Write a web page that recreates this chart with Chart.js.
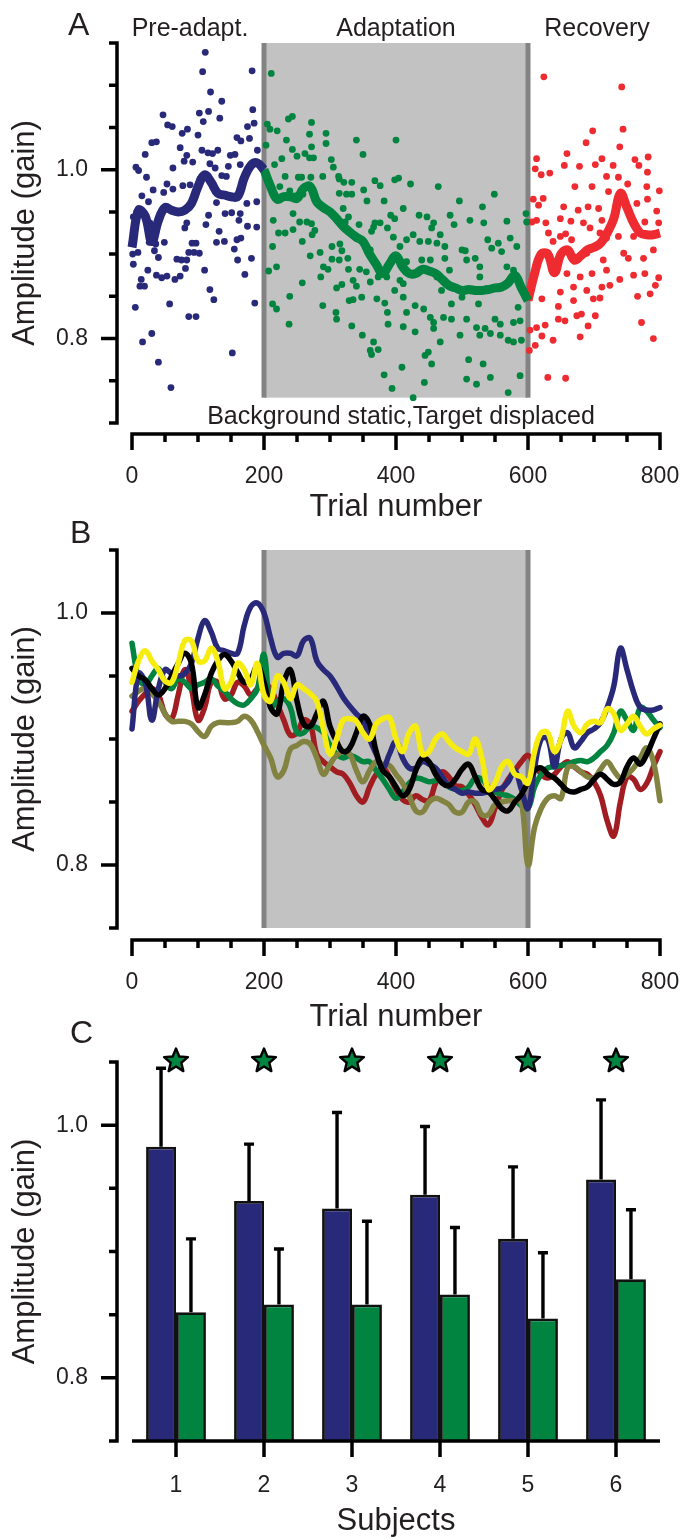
<!DOCTYPE html>
<html>
<head>
<meta charset="utf-8">
<script src="https://cdn.jsdelivr.net/npm/chart.js@4.4.1/dist/chart.umd.min.js"></script>
<style>
  body { margin: 0; background: #fff; }
  canvas { position: absolute; left: 0; }
</style>
</head>
<body>
<canvas id="chart-a" width="683" height="520" style="top:0"></canvas>
<canvas id="chart-b" width="683" height="525" style="top:505px"></canvas>
<canvas id="chart-c" width="683" height="529" style="top:1010px"></canvas>
<script>
// ---- data ----
const gainTickLabels = [0.8, 1.0];
const trialTickLabels = [0, 200, 400, 600, 800];
const phaseNames = ['Pre-adapt.', 'Adaptation', 'Recovery'];
const subjects = ['1', '2', '3', '4', '5', '6'];

// running averages, one value every 10 trials
const avgTrials = [0,10,20,30,40,50,60,70,80,90,100,110,120,130,140,150,160,170,180,190,200,210,220,230,240,250,260,270,280,290,300,310,320,330,340,350,360,370,380,390,400,410,420,430,440,450,460,470,480,490,500,510,520,530,540,550,560,570,580,590,600,610,620,630,640,650,660,670,680,690,700,710,720,730,740,750,760,770,780,790,800];
const subj1 = [0.908,0.952,0.945,0.915,0.94,0.955,0.952,0.95,0.952,0.96,0.98,0.994,0.985,0.972,0.97,0.968,0.968,0.99,1.005,1.008,1.0,0.98,0.965,0.968,0.968,0.966,0.978,0.98,0.962,0.955,0.95,0.942,0.933,0.926,0.92,0.915,0.9,0.888,0.877,0.888,0.898,0.885,0.877,0.877,0.882,0.88,0.877,0.87,0.863,0.86,0.857,0.858,0.857,0.857,0.858,0.86,0.861,0.866,0.875,0.86,0.845,0.877,0.9,0.9,0.878,0.9,0.905,0.893,0.898,0.905,0.908,0.913,0.925,0.942,0.972,0.955,0.937,0.925,0.923,0.923,0.925];
const subj2 = [0.976,0.948,0.943,0.95,0.956,0.945,0.94,0.948,0.945,0.94,0.943,0.945,0.948,0.942,0.938,0.932,0.928,0.927,0.932,0.94,0.967,0.925,0.93,0.932,0.925,0.905,0.905,0.91,0.909,0.905,0.895,0.888,0.885,0.887,0.885,0.882,0.882,0.875,0.868,0.86,0.853,0.858,0.865,0.869,0.868,0.866,0.867,0.868,0.862,0.86,0.859,0.862,0.869,0.868,0.862,0.858,0.856,0.855,0.852,0.847,0.845,0.862,0.872,0.877,0.878,0.879,0.88,0.882,0.883,0.882,0.885,0.89,0.895,0.905,0.922,0.915,0.907,0.925,0.922,0.915,0.909];
const subj3 = [0.956,0.95,0.947,0.94,0.935,0.94,0.95,0.96,0.968,0.96,0.925,0.935,0.952,0.962,0.967,0.962,0.953,0.945,0.948,0.958,0.945,0.925,0.92,0.945,0.955,0.93,0.912,0.91,0.92,0.93,0.91,0.898,0.89,0.893,0.905,0.918,0.912,0.89,0.875,0.87,0.862,0.855,0.86,0.875,0.885,0.882,0.872,0.865,0.863,0.868,0.876,0.88,0.87,0.86,0.858,0.852,0.845,0.843,0.85,0.856,0.866,0.875,0.877,0.872,0.869,0.864,0.859,0.858,0.86,0.862,0.868,0.872,0.868,0.864,0.866,0.878,0.885,0.88,0.888,0.9,0.912];
const subj4 = [0.945,0.962,0.97,0.962,0.955,0.946,0.945,0.96,0.978,0.978,0.962,0.962,0.972,0.962,0.94,0.945,0.96,0.955,0.943,0.96,0.935,0.93,0.95,0.945,0.932,0.943,0.94,0.936,0.93,0.908,0.888,0.9,0.915,0.916,0.914,0.905,0.9,0.912,0.916,0.917,0.9,0.89,0.905,0.91,0.888,0.89,0.9,0.904,0.898,0.893,0.89,0.888,0.9,0.885,0.86,0.865,0.878,0.882,0.872,0.87,0.865,0.89,0.905,0.905,0.89,0.9,0.922,0.91,0.905,0.912,0.914,0.913,0.924,0.92,0.907,0.912,0.918,0.91,0.904,0.908,0.911];
const subj5 = [0.922,0.93,0.936,0.94,0.935,0.92,0.916,0.935,0.955,0.94,0.915,0.925,0.945,0.945,0.932,0.935,0.945,0.942,0.935,0.94,0.943,0.94,0.928,0.915,0.903,0.905,0.915,0.912,0.888,0.882,0.878,0.874,0.872,0.865,0.855,0.85,0.862,0.872,0.877,0.87,0.86,0.852,0.85,0.855,0.852,0.851,0.865,0.874,0.87,0.863,0.862,0.856,0.848,0.838,0.832,0.845,0.859,0.868,0.875,0.882,0.887,0.88,0.872,0.869,0.872,0.878,0.882,0.878,0.874,0.872,0.866,0.855,0.835,0.823,0.85,0.87,0.868,0.86,0.865,0.878,0.89];
const subj6 = [0.934,0.938,0.94,0.936,0.93,0.92,0.914,0.914,0.914,0.912,0.906,0.902,0.91,0.913,0.913,0.913,0.914,0.918,0.915,0.906,0.895,0.885,0.87,0.875,0.892,0.895,0.898,0.896,0.885,0.872,0.88,0.887,0.89,0.888,0.875,0.866,0.875,0.882,0.88,0.879,0.872,0.865,0.855,0.843,0.842,0.85,0.853,0.851,0.848,0.842,0.842,0.85,0.85,0.84,0.84,0.848,0.85,0.851,0.851,0.85,0.8,0.83,0.845,0.853,0.855,0.853,0.877,0.878,0.874,0.87,0.869,0.876,0.882,0.875,0.869,0.872,0.877,0.885,0.893,0.882,0.851];

// single trials of subject 1 (panel A)
const preTrial = [111,107,182,119,136,47,102,116,133,108,183,54,61,84,76,100,175,185,159,165,178,30,37,73,106,20,83,115,122,130,149,156,190,6,10,62,79,92,118,126,146,164,22,53,77,88,103,136,143,32,48,62,15,25,96,128,154,174,189,2,7,116,141,151,162,164,27,83,112,175,189,80,132,26,36,49,128,140,159,165,91,97,155,34,86,94,102,1,9,40,68,75,83,160,181,2,24,81,73,37,45,53,65,110,171,14,12,19,118,124,57,186,5,86,97,30,16,152,40,59];
const preGain = [1.139,1.116,1.117,1.092,1.081,1.065,1.067,1.069,1.061,1.057,1.071,1.053,1.051,1.048,1.043,1.041,1.051,1.055,1.038,1.034,1.037,1.032,1.033,1.026,1.023,1.018,1.017,1.02,1.019,1.023,1.017,1.018,1.023,1.003,0.999,1.002,1.01,1.009,1.007,1.002,1.004,1.006,0.991,0.983,0.981,0.982,0.989,0.993,0.992,0.976,0.973,0.977,0.969,0.962,0.969,0.961,0.968,0.96,0.962,0.944,0.95,0.946,0.948,0.949,0.94,0.948,0.937,0.937,0.935,0.933,0.932,0.931,0.927,0.914,0.912,0.914,0.914,0.915,0.917,0.919,0.913,0.913,0.906,0.904,0.902,0.902,0.901,0.9,0.902,0.896,0.894,0.893,0.893,0.893,0.895,0.888,0.881,0.883,0.874,0.875,0.872,0.874,0.87,0.881,0.876,0.87,0.862,0.862,0.858,0.846,0.841,0.842,0.837,0.826,0.826,0.806,0.796,0.783,0.772,0.742];
const adaptTrial = [211,243,237,272,205,220,209,269,294,340,400,234,203,243,272,250,262,294,269,275,350,216,227,302,305,232,252,257,271,289,313,314,321,333,368,376,398,404,239,247,259,224,314,325,333,351,356,382,411,320,244,214,222,232,244,254,265,272,277,273,323,328,344,376,366,392,398,368,387,396,363,258,213,270,285,303,315,318,303,314,327,361,406,290,286,297,219,207,258,328,335,345,355,361,373,386,406,310,318,340,348,335,329,371,383,398,411,387,388,239,213,219,289,309,310,333,238,349,366,361,373,363,382,394,422,464,549,496,531,435,447,482,488,512,533,568,597,598,457,454,467,426,416,436,449,462,474,500,505,539,555,573,583,545,560,520,527,568,578,507,474,416,439,452,481,462,411,469,527,537,500,484,429,442,525,585,416,452,457,472,484,507,522,535,550,558,578,588,411,429,457,497,527,543,558,570,578,590,467,449,444,454,409,510,532,588,543,443,507,522,426,570];
const adaptGain = [1.114,1.063,1.06,1.056,1.054,1.046,1.048,1.042,1.043,1.035,1.035,1.035,1.029,1.024,1.027,1.016,1.019,1.031,1.014,1.014,1.018,1.006,1.013,1.012,1.003,0.992,0.991,0.991,0.991,0.992,0.992,0.989,0.985,0.985,0.987,0.981,0.988,0.99,0.975,0.969,0.971,0.98,0.972,0.971,0.971,0.976,0.963,0.963,0.954,0.954,0.948,0.94,0.925,0.925,0.929,0.938,0.938,0.936,0.928,0.923,0.938,0.944,0.935,0.937,0.932,0.946,0.942,0.937,0.931,0.92,0.927,0.915,0.909,0.898,0.902,0.909,0.912,0.904,0.894,0.893,0.895,0.905,0.909,0.885,0.873,0.882,0.885,0.88,0.866,0.882,0.869,0.882,0.879,0.867,0.873,0.873,0.869,0.86,0.864,0.862,0.849,0.846,0.845,0.847,0.842,0.857,0.849,0.831,0.817,0.85,0.841,0.835,0.839,0.831,0.823,0.815,0.817,0.804,0.796,0.786,0.787,0.781,0.757,0.741,0.983,0.98,0.971,0.963,0.956,0.946,0.944,0.946,0.935,0.94,0.937,0.939,0.948,0.938,0.937,0.931,0.923,0.923,0.917,0.915,0.915,0.913,0.909,0.905,0.904,0.917,0.913,0.919,0.909,0.907,0.903,0.895,0.885,0.885,0.881,0.893,0.895,0.891,0.893,0.893,0.881,0.873,0.865,0.857,0.873,0.859,0.849,0.841,0.839,0.835,0.841,0.837,0.831,0.825,0.819,0.825,0.823,0.823,0.813,0.812,0.823,0.817,0.819,0.821,0.814,0.808,0.812,0.804,0.804,0.806,0.804,0.798,0.796,0.798,0.796,0.784,0.78,0.77,0.766,0.775,0.77,0.756,0.754,0.748,0.752,0.746,0.73,0.736];
const recovTrial = [624,742,698,744,688,739,613,659,712,782,655,678,702,729,762,611,620,633,768,781,719,737,671,697,751,780,799,722,608,623,654,676,691,707,765,781,795,616,606,613,627,649,665,684,694,712,777,798,631,638,649,657,666,709,719,737,760,790,745,633,669,689,714,752,775,659,679,697,719,739,760,777,798,649,669,689,712,724,793,621,669,699,709,766,785,646,681,674,702,646,656,691,772,626,603,613,679,621,638,611,602,790,630,657];
const recovGain = [1.11,1.098,1.046,1.048,1.032,1.027,1.013,1.019,1.013,1.015,1.005,1.004,1.006,1.005,1.012,1.001,0.994,0.996,1.005,0.997,0.992,0.991,0.98,0.98,0.983,0.98,0.975,0.974,0.965,0.966,0.956,0.952,0.956,0.954,0.96,0.965,0.951,0.958,0.938,0.94,0.937,0.942,0.939,0.937,0.931,0.94,0.938,0.937,0.925,0.915,0.921,0.924,0.917,0.925,0.919,0.921,0.921,0.905,0.901,0.895,0.897,0.901,0.893,0.895,0.895,0.877,0.873,0.877,0.881,0.87,0.875,0.877,0.872,0.855,0.861,0.857,0.861,0.863,0.863,0.847,0.845,0.847,0.848,0.85,0.853,0.838,0.829,0.827,0.827,0.823,0.821,0.815,0.819,0.816,0.81,0.813,0.802,0.803,0.798,0.792,0.786,0.8,0.754,0.753];

// panel C: mean gain per subject with upper SD
const preAdaptMean = [0.983, 0.940, 0.934, 0.945, 0.910, 0.957];
const preAdaptSD = [0.062, 0.045, 0.076, 0.054, 0.057, 0.063];
const adaptMean = [0.852, 0.858, 0.858, 0.866, 0.847, 0.878];
const adaptSD = [0.058, 0.044, 0.066, 0.053, 0.052, 0.055];
const significant = [true, true, true, true, true, true];

// ---- styling ----
const family = '"Liberation Sans", Arial, Helvetica, sans-serif';
const ink = '#231f20';
const navy = '#29297a', green = '#00843f', red = '#ee2b30';
const maroon = '#a11d22', olive = '#838341', yellow = '#f7ec0f';
Chart.defaults.font.family = family;

const pts = (xs, ys) => xs.map((t, i) => ({ x: t, y: ys[i] }));
const avgPts = (ys, from, to) => avgTrials.slice(from, to + 1).map((t, i) => ({ x: t, y: ys[from + i] }));

// axes are drawn by hand: offset spines, long ticks on labelled values
const paperAxes = {
  id: 'paperAxes',
  beforeDatasetsDraw(chart, args, o) {
    if (!o.shade) return;
    const { ctx, chartArea: a, scales: { x, y } } = chart;
    const x0 = x.getPixelForValue(o.shade[0]);
    const x1 = x.getPixelForValue(o.shade[1]);
    const yb = o.shadeFloor != null ? y.getPixelForValue(o.shadeFloor) : a.bottom;
    ctx.save();
    ctx.fillStyle = '#c2c2c2';
    ctx.fillRect(x0, a.top, x1 - x0, yb - a.top);
    ctx.fillStyle = '#838383';
    ctx.fillRect(x0 - 2.5, a.top, 5, yb - a.top);
    ctx.fillRect(x1 - 2.5, a.top, 5, yb - a.top);
    ctx.restore();
  },
  afterDraw(chart, args, o) {
    const { ctx, chartArea: a, scales: { x, y } } = chart;
    ctx.save();
    ctx.strokeStyle = '#000';
    ctx.lineWidth = 3.5;
    const sx = a.left - o.yGap;
    ctx.beginPath();
    ctx.moveTo(sx, a.top - 1.75);
    ctx.lineTo(sx, a.bottom + 1.75);
    y.ticks.forEach(t => {
      const py = y.getPixelForValue(t.value);
      ctx.moveTo(sx + 1.75, py);
      ctx.lineTo(sx - (t.label ? 16 : 8), py);
    });
    ctx.stroke();

    const sy = a.bottom + o.xGap;
    ctx.beginPath();
    if (x.type === 'category') {
      ctx.moveTo(a.left, sy);
      ctx.lineTo(a.right, sy);
      x.ticks.forEach((t, i) => {
        const px = x.getPixelForTick(i);
        ctx.moveTo(px, sy);
        ctx.lineTo(px, sy + 16);
      });
    } else {
      ctx.moveTo(x.getPixelForValue(x.min) - 1.75, sy);
      ctx.lineTo(x.getPixelForValue(x.max) + 1.75, sy);
      x.ticks.forEach(t => {
        const px = x.getPixelForValue(t.value);
        ctx.moveTo(px, sy - 1.75);
        ctx.lineTo(px, sy + (t.label ? 16 : 8));
      });
    }
    ctx.stroke();

    ctx.fillStyle = ink;
    ctx.textBaseline = 'alphabetic';
    (o.notes || []).forEach(n => {
      ctx.font = n.size + 'px ' + family;
      ctx.textAlign = n.align || 'center';
      ctx.fillText(n.text, n.x, n.y);
    });
    ctx.restore();
  }
};

const errorBars = {
  id: 'errorBars',
  afterDatasetsDraw(chart) {
    const { ctx, scales: { y } } = chart;
    ctx.save();
    ctx.strokeStyle = '#000';
    ctx.lineWidth = 3.4;
    chart.data.datasets.forEach((ds, di) => {
      if (!ds.sd) return;
      chart.getDatasetMeta(di).data.forEach((bar, i) => {
        const top = y.getPixelForValue(ds.data[i] + ds.sd[i]);
        ctx.beginPath();
        ctx.moveTo(bar.x, bar.y);
        ctx.lineTo(bar.x, top);
        ctx.moveTo(bar.x - 5, top);
        ctx.lineTo(bar.x + 5, top);
        ctx.stroke();
      });
    });
    ctx.restore();
  },
  afterDraw(chart) {
    const { ctx, chartArea: a, scales: { x } } = chart;
    ctx.save();
    ctx.fillStyle = green;
    ctx.strokeStyle = '#000';
    ctx.lineWidth = 2.4;
    ctx.lineJoin = 'round';
    significant.forEach((s, i) => {
      if (!s) return;
      const cx = x.getPixelForValue(i), cy = a.top - 1;
      ctx.beginPath();
      for (let k = 0; k < 10; k++) {
        const r = k % 2 ? 5.6 : 12.5;
        const ang = -Math.PI / 2 + k * Math.PI / 5;
        ctx.lineTo(cx + r * Math.cos(ang), cy + r * Math.sin(ang));
      }
      ctx.closePath();
      ctx.fill();
      ctx.stroke();
    });
    ctx.restore();
  }
};

function gainAxis(min, max) {
  return {
    min: min, max: max,
    afterFit: s => { s.width = 132; s.paddingTop = 0; s.paddingBottom = 0; },
    grid: { display: false, drawTicks: false },
    border: { display: false },
    ticks: {
      stepSize: 0.05, autoSkip: false, padding: 44, color: ink, font: { size: 23 },
      callback: v => gainTickLabels.includes(Math.round(v * 100) / 100) ? v.toFixed(1) : ''
    },
    title: { display: true, text: 'Amplitude (gain)', color: ink, font: { size: 31 }, padding: { top: 7 } }
  };
}

function trialAxis(height, pad) {
  return {
    type: 'linear', min: 0, max: 800,
    afterFit: s => { s.height = height; s.paddingLeft = 0; s.paddingRight = 20; },
    grid: { display: false, drawTicks: false },
    border: { display: false },
    ticks: {
      stepSize: 50, autoSkip: false, maxRotation: 0, padding: pad, color: ink, font: { size: 23 },
      callback: v => trialTickLabels.includes(v) ? String(v) : ''
    },
    title: { display: true, text: 'Trial number', color: ink, font: { size: 31, lineHeight: 0.8 }, padding: 0 }
  };
}

const quiet = { legend: { display: false }, tooltip: { enabled: false } };

// ---- A: one subject, single trials + running mean ----
new Chart(document.getElementById('chart-a'), {
  type: 'scatter',
  data: {
    datasets: [
      { data: avgPts(subj1, 0, 20), showLine: true, borderColor: navy, borderWidth: 9, pointRadius: 0, tension: 0.4, clip: false },
      { data: avgPts(subj1, 20, 60), showLine: true, borderColor: green, borderWidth: 9, pointRadius: 0, tension: 0.4, clip: false },
      { data: avgPts(subj1, 60, 80), showLine: true, borderColor: red, borderWidth: 9, pointRadius: 0, tension: 0.4, clip: false },
      { data: pts(preTrial, preGain), backgroundColor: navy, borderWidth: 0, pointRadius: 3.4, clip: false },
      { data: pts(adaptTrial, adaptGain), backgroundColor: green, borderWidth: 0, pointRadius: 3.4, clip: false },
      { data: pts(recovTrial, recovGain), backgroundColor: red, borderWidth: 0, pointRadius: 3.4, clip: false }
    ]
  },
  options: {
    responsive: false, animation: false,
    layout: { padding: { top: 43, right: 23, left: 0, bottom: 0 } },
    scales: { x: trialAxis(97, 40), y: gainAxis(0.70, 1.15) },
    plugins: Object.assign({}, quiet, {
      paperAxes: {
        yGap: 15, xGap: 11, shade: [200, 600], shadeFloor: 0.73,
        notes: [
          { text: 'A', x: 68, y: 35, size: 32, align: 'left' },
          { text: phaseNames[0], x: 190, y: 36, size: 25 },
          { text: phaseNames[1], x: 396, y: 36, size: 25 },
          { text: phaseNames[2], x: 597, y: 36, size: 25 },
          { text: 'Background static,Target displaced', x: 401, y: 424, size: 25 }
        ]
      }
    })
  },
  plugins: [paperAxes]
});

// ---- B: running mean of every subject ----
const line = (ys, color) => ({
  data: avgPts(ys, 0, 80), borderColor: color, borderWidth: 5.5, pointRadius: 0,
  tension: 0.4, borderJoinStyle: 'round', borderCapStyle: 'round', clip: false
});
new Chart(document.getElementById('chart-b'), {
  type: 'line',
  data: {
    datasets: [line(subj4, yellow), line(subj3, '#000'), line(subj1, navy), line(subj6, olive), line(subj2, green), line(subj5, maroon)]
  },
  options: {
    responsive: false, animation: false,
    layout: { padding: { top: 45, right: 23, left: 0, bottom: 0 } },
    scales: { x: trialAxis(102, 41), y: gainAxis(0.75, 1.05) },
    plugins: Object.assign({}, quiet, {
      paperAxes: {
        yGap: 15, xGap: 12, shade: [200, 600],
        notes: [{ text: 'B', x: 70, y: 38, size: 32, align: 'left' }]
      }
    })
  },
  plugins: [paperAxes]
});

// ---- C: pre-adaptation vs adaptation per subject ----
new Chart(document.getElementById('chart-c'), {
  type: 'bar',
  data: {
    labels: subjects,
    datasets: [
      { data: preAdaptMean, sd: preAdaptSD, backgroundColor: navy, borderColor: '#111', borderWidth: 2.8 },
      { data: adaptMean, sd: adaptSD, backgroundColor: green, borderColor: '#111', borderWidth: 2.8 }
    ]
  },
  options: {
    responsive: false, animation: false,
    categoryPercentage: 0.68, barPercentage: 1,
    layout: { padding: { top: 52, right: 23, left: 0, bottom: 0 } },
    scales: {
      x: {
        afterFit: s => { s.height = 98; s.paddingLeft = 0; s.paddingRight = 0; },
        grid: { display: false, drawTicks: false },
        border: { display: false },
        ticks: { padding: 31, color: ink, font: { size: 23 } },
        title: { display: true, text: 'Subjects', color: ink, font: { size: 31, lineHeight: 0.8 }, padding: { bottom: 5 } }
      },
      y: gainAxis(0.75, 1.05)
    },
    plugins: Object.assign({}, quiet, {
      paperAxes: {
        yGap: 15, xGap: 0,
        notes: [{ text: 'C', x: 70, y: 33, size: 32, align: 'left' }]
      }
    })
  },
  plugins: [paperAxes, errorBars]
});
</script>
</body>
</html>
